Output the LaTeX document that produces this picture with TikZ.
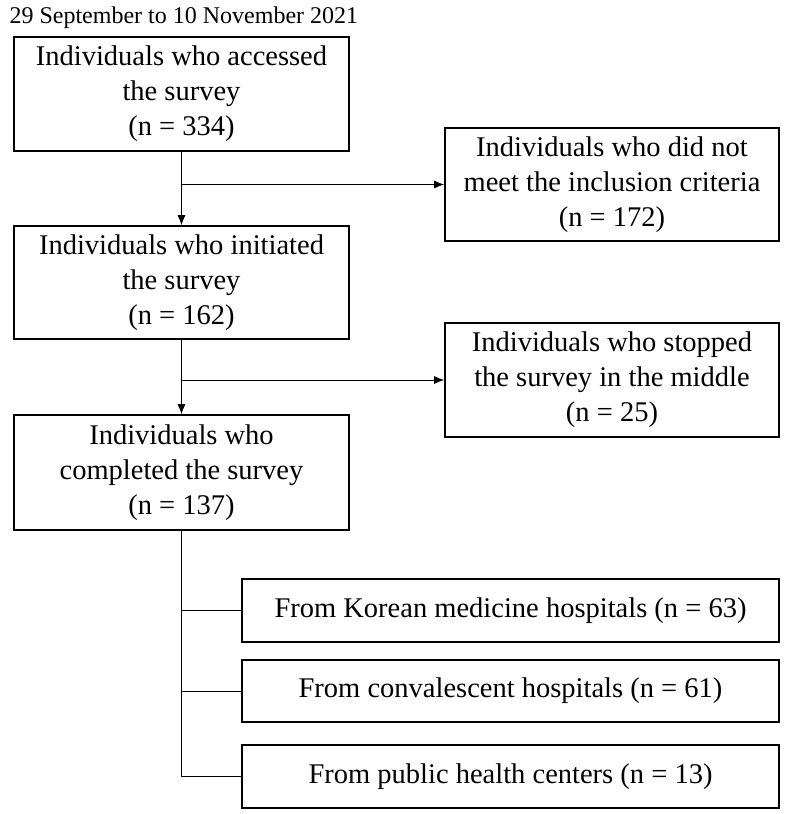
\documentclass[tikz,border=0pt]{standalone}
\usepackage{fontspec}
\setmainfont{Liberation Serif}
\usetikzlibrary{positioning, arrows.meta}
\tikzstyle{block} = [rectangle, draw, line width=1.6pt, fill=white,
                 align=center, inner sep=2pt,
                 font=\fontsize{28.5}{35}\selectfont]
\tikzstyle{branch} = [line width=1pt, draw]
\tikzset{
	flow/.style={branch, -{Latex[length=10pt,width=8pt]}},
}

\begin{document}
\begin{tikzpicture}[x=1pt, y=-1pt]
\useasboundingbox (0,0) rectangle (787,814);

\node [anchor=base west, font=\fontsize{24}{28}\selectfont] at (6,23) (period) {29 September to 10 November 2021};

\node [block, minimum width=335pt, minimum height=114pt] at (181.5,94) (accessed) {Individuals who accessed\\the survey\\(n = 334)};
\node [block, minimum width=334pt, minimum height=113pt] at (612,184.5) (excluded) {Individuals who did not\\meet the inclusion criteria\\(n = 172)};
\node [block, minimum width=335pt, minimum height=113pt] at (181.5,282.5) (initiated) {Individuals who initiated\\the survey\\(n = 162)};
\node [block, minimum width=334pt, minimum height=114pt] at (612,380) (stopped) {Individuals who stopped\\the survey in the middle\\(n = 25)};
\node [block, minimum width=335pt, minimum height=115pt] at (181.5,472.5) (completed) {Individuals who\\completed the survey\\(n = 137)};

\node [block, minimum width=537pt, minimum height=63pt] at (510.5,610.5) (korean) {From Korean medicine hospitals (n = 63)};
\node [block, minimum width=537pt, minimum height=62pt] at (510.5,691) (conval) {From convalescent hospitals (n = 61)};
\node [block, minimum width=537pt, minimum height=63pt] at (510.5,776.5) (public) {From public health centers (n = 13)};

\coordinate (j1) at (accessed.south |- excluded.west);
\coordinate (j2) at (initiated.south |- stopped.west);

\path [flow] (accessed.south) -- (initiated.north);
\path [flow] (j1) -- (excluded.west);
\path [flow] (initiated.south) -- (completed.north);
\path [flow] (j2) -- (stopped.west);

\path [branch] (completed.south) -- (completed.south |- public.west);
\foreach \src in {korean, conval, public}
	\path [branch] (completed.south |- \src.west) -- (\src.west);

\end{tikzpicture}
\end{document}
